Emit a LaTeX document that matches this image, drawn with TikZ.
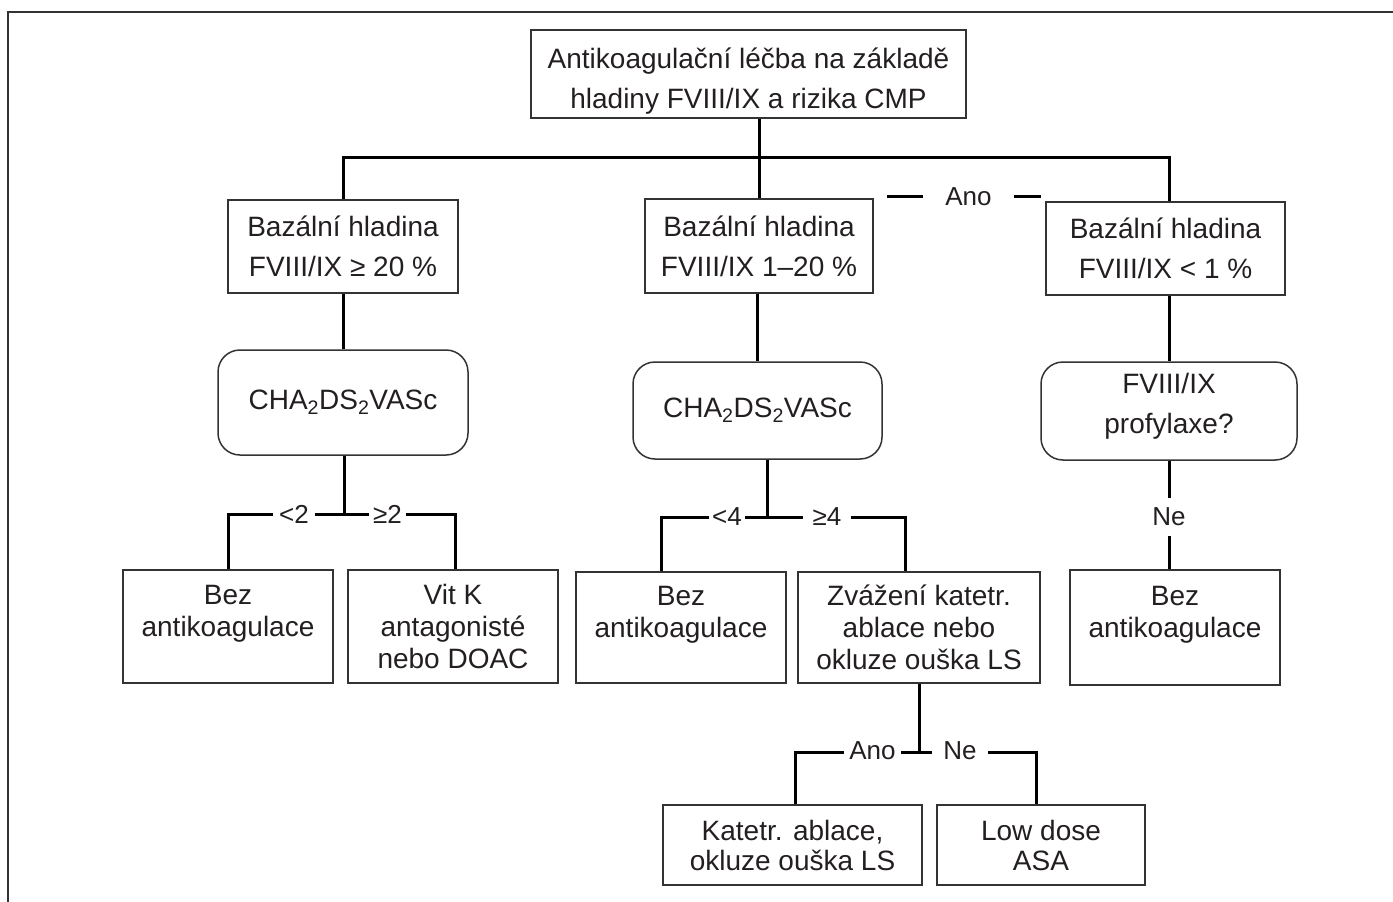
\documentclass[tikz,border=0pt]{standalone}
\usepackage{fontspec}
\setmainfont{Liberation Sans}
\definecolor{boxc}{HTML}{333333}
\definecolor{txt}{HTML}{231F20}
\begin{document}
\begin{tikzpicture}[x=1pt,y=-1pt,
  box/.style={draw=boxc, line width=1.5pt, align=center, inner sep=0pt, text=txt},
  rbox/.style={box, rounded corners=22pt},
  conn/.style={line width=3pt, black},
  lab/.style={fill=white, inner ysep=1pt, text=txt, text depth=0pt, font=\fontsize{26}{28}\selectfont},
  bigf/.style={font=\fontsize{28}{40}\selectfont},
  smallf/.style={font=\fontsize{28}{32}\selectfont},
  midf/.style={font=\fontsize{28}{30}\selectfont}]
\useasboundingbox (0,0) rectangle (1393,902);
\draw[draw=boxc, line width=1.5pt] (8,902) -- (8,12) -- (1393,12);

% nodes
\node[box,bigf,minimum width=435,minimum height=88] (top) at (748.5,74) {\rule{0pt}{34pt}Antikoagulační léčba na základě\\hladiny FVIII/IX a rizika CMP};
\node[box,bigf,minimum width=230,minimum height=93] (b1) at (343,246.5) {Bazální hladina\\FVIII/IX ≥ 20 \%};
\node[box,bigf,minimum width=228,minimum height=94] (b2) at (759,246) {Bazální hladina\\FVIII/IX 1–20 \%};
\node[box,bigf,minimum width=239,minimum height=93] (b3) at (1165.5,248.5) {Bazální hladina\\FVIII/IX < 1 \%};

\node[rbox,bigf,minimum width=250,minimum height=105] (r1) at (343,402.5) {CHA\textsubscript{2}DS\textsubscript{2}VASc};
\node[rbox,bigf,minimum width=249,minimum height=97] (r2) at (757.5,410.5) {CHA\textsubscript{2}DS\textsubscript{2}VASc};
\node[rbox,bigf,minimum width=256,minimum height=98] (r3) at (1169,411) {FVIII/IX\\profylaxe?\\[-25pt]~};

\node[box,smallf,minimum width=210,minimum height=113] (l1) at (228,626.5) {Bez\\antikoagulace\\~};
\node[box,smallf,minimum width=210,minimum height=113] (l2) at (453,626.5) {Vit K\\antagonisté\\nebo DOAC};
\node[box,smallf,minimum width=210,minimum height=111] (l3) at (681,627.5) {Bez\\antikoagulace\\~};
\node[box,smallf,minimum width=242,minimum height=111] (l4) at (919,627.5) {Zvážení katetr.\\ablace nebo\\okluze ouška LS};
\node[box,smallf,minimum width=210,minimum height=115] (l5) at (1175,627.5) {Bez\\antikoagulace\\~};
\node[box,midf,minimum width=259,minimum height=80] (l6) at (792.5,845) {Katetr. ablace,\\okluze ouška LS};
\node[box,midf,minimum width=208,minimum height=80] (l7) at (1041,845) {Low dose\\ASA};

% connectors
\coordinate (bus) at (759,157);
\coordinate (bL) at (343,157);
\coordinate (bR) at (1169,157);
\draw[conn] (top.south -| bus) -- (bus);
\draw[conn] (b1.north) -- (bL) -- (bR) -- (bR |- b3.north);
\draw[conn] (bus) -- (b2.north);

\draw[conn] (b1.south) -- (r1.north);
\draw[conn] (b2.south -| r2.north) -- (r2.north);
\draw[conn] (b3.south -| bR) -- (r3.north -| bR);

\coordinate (j1) at (344,514);
\coordinate (j1L) at (228,514);
\coordinate (j1R) at (455,514);
\draw[conn] (r1.south -| j1) -- (j1);
\draw[conn] (j1L |- l1.north) -- (j1L) -- (j1R) -- (j1R |- l2.north);

\coordinate (j2) at (767,517);
\coordinate (j2L) at (661,517);
\coordinate (j2R) at (905,517);
\draw[conn] (r2.south -| j2) -- (j2);
\draw[conn] (j2L |- l3.north) -- (j2L) -- (j2R) -- (j2R |- l4.north);

\draw[conn] (r3.south -| bR) -- (l5.north -| bR);

\coordinate (j3) at (919,752);
\coordinate (j3L) at (795,752);
\coordinate (j3R) at (1036,752);
\draw[conn] (l4.south -| j3) -- (j3);
\draw[conn] (j3L |- l6.north) -- (j3L) -- (j3R) -- (j3R |- l7.north);

\coordinate (a1) at (887,196);
\coordinate (a2) at (1041,196);
\draw[conn] (a1) -- (a2);

% labels
\node[lab,inner xsep=22pt] (ano1) at (968.5,197) {Ano};
\node[lab,inner xsep=6pt] (lt2) at (294,514) {<2};
\node[lab,inner xsep=4.5pt] (ge2) at (387.5,514) {≥2};
\node[lab,inner xsep=3.5pt] (lt4) at (727,517) {<4};
\node[lab,inner xsep=9.5pt] (ge4) at (827,517) {≥4};
\node[lab,inner xsep=1pt,inner ysep=10.5pt] (ne1) at (1169,517) {Ne};
\node[lab,inner xsep=5.5pt] (ano2) at (872.5,751) {Ano};
\node[lab,inner xsep=11.5pt] (ne2) at (960,751) {Ne};
\end{tikzpicture}
\end{document}
